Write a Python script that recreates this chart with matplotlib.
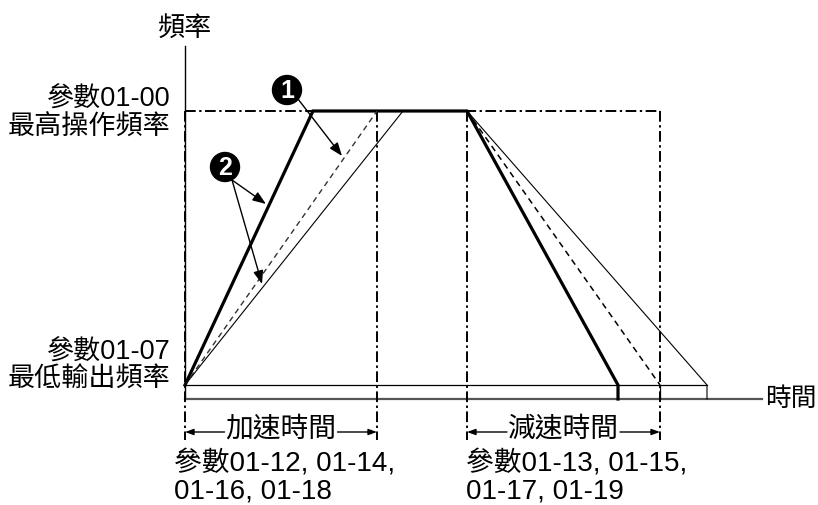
import matplotlib
matplotlib.use("Agg")
import matplotlib.pyplot as plt
from matplotlib.patches import Circle

plt.rcParams['font.family'] = ['Liberation Sans', 'Noto Sans CJK TC', 'DejaVu Sans']

# ---- diagram data (horizontal: time scale, vertical: frequency scale, in diagram units) ----
t_origin = 185
accel_end = [313, 377, 403]      # thick (1), dashed, thin
decel_start = 467
decel_end = [618, 660, 707]      # thick, dashed, thin
t_axis_end = 762
f_axis_top = 46
f_max = 111
f_min = 385
f_zero = 399
dim_bottom = 440
dim_y = 432

# labels
y_title = "頻率"
x_title = "時間"
max_label = ["參數01-00", "最高操作頻率"]
min_label = ["參數01-07", "最低輸出頻率"]
accel_label = "加速時間"
decel_label = "減速時間"
accel_params = ["參數01-12, 01-14,", "01-16, 01-18"]
decel_params = ["參數01-13, 01-15,", "01-17, 01-19"]

# callout markers: (label, centre, arrow starts, arrow tips)
callout1 = ("1", (287, 90), [(298, 99)], [(342, 156)])
callout2 = ("2", (225, 167), [(232, 180), (232, 180)], [(266, 204), (262, 284)])

W, H = 818, 505
fig = plt.figure(figsize=(W / 100, H / 100), dpi=100)
ax = fig.add_axes([0, 0, 1, 1])
ax.set_xlim(0, W)
ax.set_ylim(H, 0)
ax.axis('off')

dashdot = (0, (5.5, 1.8, 1.2, 1.8))
FS = 19.5
FSB = 20

# axes
ax.plot([t_origin, t_origin], [f_axis_top, f_zero], color='black', lw=1.0)
ax.plot([t_origin, t_axis_end], [f_zero, f_zero], color='#555555', lw=1.6)

# min frequency line
ax.plot([t_origin, decel_end[2]], [f_min, f_min], color='black', lw=0.9)

# dash-dot reference lines
ax.plot([t_origin, decel_end[1]], [f_max, f_max], color='black', lw=1.4, ls=dashdot)
for xv in [t_origin, accel_end[1], decel_start, decel_end[1]]:
    ax.plot([xv, xv], [f_max, dim_bottom], color='black', lw=1.4, ls=dashdot)

# thick profile
ax.plot([t_origin, accel_end[0], decel_start, decel_end[0], decel_end[0]],
        [f_min, f_max, f_max, f_min, f_zero], color='black', lw=2.3,
        solid_joinstyle='miter')
# dashed profile
ax.plot([t_origin, accel_end[1]], [f_min, f_max], color='#333333', lw=1.0, ls=(0, (4, 3)))
ax.plot([decel_start, decel_end[1]], [f_max, f_min], color='black', lw=1.1, ls=(0, (4, 3)))
ax.plot([decel_end[1], decel_end[1]], [f_min, f_zero], color='black', lw=0.9)
# thin profile
ax.plot([t_origin, accel_end[2], decel_start, decel_end[2], decel_end[2]],
        [f_min, f_max, f_max, f_min, f_zero], color='black', lw=0.8)

# callouts
for lab, c, starts, tips in [callout1, callout2]:
    for s, t in zip(starts, tips):
        ax.annotate('', xy=t, xytext=s,
                    arrowprops=dict(arrowstyle='-|>,head_length=0.8,head_width=0.3',
                                    color='black', lw=1.0, mutation_scale=10,
                                    shrinkA=0, shrinkB=0))
    ax.add_patch(Circle(c, 14.5, color='black', zorder=5))
    ax.text(c[0], c[1] + 1, lab, color='white', fontsize=18, fontweight='bold',
            ha='center', va='center', zorder=6)

# axis titles
ax.text(t_origin, 29, y_title, fontsize=FS, ha='center', va='center')
ax.text(765, f_zero, x_title, fontsize=18.5, ha='left', va='center')

# left labels
ax.text(171, 100, max_label[0], fontsize=FS, ha='right', va='center')
ax.text(171, 128, max_label[1], fontsize=FS, ha='right', va='center')
ax.text(171, 353, min_label[0], fontsize=FS, ha='right', va='center')
ax.text(171, 380, min_label[1], fontsize=FS, ha='right', va='center')

# dimension arrows
fig.canvas.draw()
renderer = fig.canvas.get_renderer()


def dim(x0, x1, label):
    xm = (x0 + x1) / 2
    txt = ax.text(xm, dim_y - 2, label, fontsize=FSB, ha='center', va='center')
    bb = txt.get_window_extent(renderer=renderer)
    half = bb.width / 2 + 1
    for a, b in [(xm - half, x0), (xm + half, x1)]:
        ax.annotate('', xy=(b, dim_y), xytext=(a, dim_y),
                    arrowprops=dict(arrowstyle='-|>,head_length=0.5,head_width=0.18',
                                    color='black', lw=1.0, mutation_scale=10,
                                    shrinkA=0, shrinkB=0))


dim(t_origin, accel_end[1], accel_label)
dim(decel_start, decel_end[1], decel_label)

ax.text(174, 464, accel_params[0], fontsize=FSB, ha='left', va='center')
ax.text(174, 491, accel_params[1], fontsize=FSB, ha='left', va='center')
ax.text(466, 464, decel_params[0], fontsize=FSB, ha='left', va='center')
ax.text(466, 491, decel_params[1], fontsize=FSB, ha='left', va='center')

fig.savefig('out.png', dpi=100)
